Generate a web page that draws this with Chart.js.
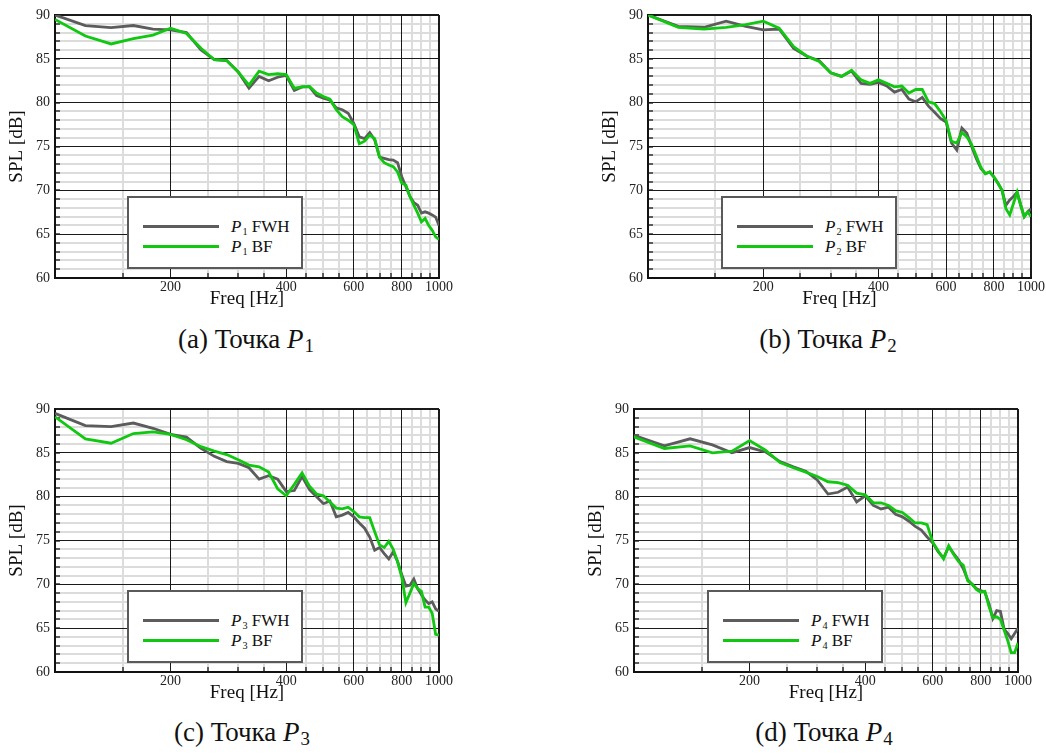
<!DOCTYPE html>
<html lang="ru">
<head>
    <meta charset="UTF-8">
    <title>SPL - Точки P1..P4</title>
    <script src="https://cdn.jsdelivr.net/npm/chart.js"></script>
    <style>
        body {
            margin: 0;
            background: #ffffff;
            font-family: 'Liberation Serif', 'DejaVu Serif', serif;
            color: #111;
        }
        #page {
            position: relative;
            width: 1046px;
            height: 754px;
            overflow: hidden;
        }
        canvas {
            position: absolute;
        }
        .legend {
            position: absolute;
            width: 176px;
            height: 73px;
            background: #fff;
            border: 2px solid #5a5a5a;
            box-sizing: border-box;
        }
        .legend .swatch {
            position: absolute;
            left: 14px;
            width: 76px;
            height: 3px;
        }
        .legend .txt {
            position: absolute;
            left: 102px;
            font-size: 17px;
            line-height: 17px;
            white-space: nowrap;
        }
        .sub {
            font-size: 0.6em;
            position: relative;
            top: 0.3em;
            margin-left: 1px;
        }
        .caption {
            position: absolute;
            font-size: 27px;
            line-height: 27px;
            white-space: nowrap;
            transform: translateX(-50%);
        }
        .caption .sub {
            font-size: 0.7em;
            top: 0.25em;
        }
    </style>
</head>
<body>
<div id="page"></div>

<script>
    // frequencies (Hz), 20 Hz step
    const freqs = [100, 120, 140, 160, 180, 200, 220, 240, 260, 280,
                   300, 320, 340, 360, 380, 400, 420, 440, 460, 480,
                   500, 520, 540, 560, 580, 600, 620, 640, 660, 680,
                   700, 720, 740, 760, 780, 800, 820, 840, 860, 880,
                   900, 920, 940, 960, 980, 1000];

    // SPL [dB]
    const p1Fwh = [90.0, 88.8, 88.55, 88.8, 88.4, 88.3, 88.0, 86.0, 84.9, 84.8,
                   83.5, 81.65, 83.0, 82.5, 82.9, 83.1, 81.4, 81.8, 81.8, 80.8,
                   80.5, 80.3, 79.4, 79.2, 78.8, 77.65, 76.1, 75.9, 76.6, 75.75,
                   73.8, 73.65, 73.5, 73.45, 73.15, 71.55, 70.4, 69.3, 68.6, 68.3,
                   67.4, 67.55, 67.4, 67.2, 66.95, 66.0];
    const p1Bf  = [89.5, 87.6, 86.7, 87.3, 87.7, 88.5, 87.9, 86.2, 84.9, 84.8,
                   83.5, 82.0, 83.6, 83.2, 83.3, 83.2, 81.65, 81.8, 81.85, 81.1,
                   80.7, 80.4, 79.2, 78.4, 78.0, 77.5, 75.3, 75.6, 76.3, 75.9,
                   73.8, 73.15, 72.9, 72.7, 72.1, 70.8, 70.6, 69.3, 68.3, 67.4,
                   66.4, 66.8, 66.0, 65.45, 64.7, 64.4];

    const p2Fwh = [90.0, 88.7, 88.6, 89.3, 88.7, 88.3, 88.4, 86.2, 85.3, 84.8,
                   83.4, 83.0, 83.6, 82.2, 82.1, 82.3, 81.9, 81.2, 81.5, 80.4,
                   80.1, 80.6, 79.6, 78.9, 78.2, 77.8, 75.4, 74.6, 77.1, 76.5,
                   75.0, 73.6, 72.5, 71.9, 72.1, 71.55, 70.8, 70.0, 68.3, 68.9,
                   69.3, 69.8, 68.3, 67.0, 67.55, 67.9];
    const p2Bf  = [90.0, 88.6, 88.4, 88.6, 88.9, 89.3, 88.5, 86.4, 85.3, 84.7,
                   83.4, 83.0, 83.7, 82.6, 82.2, 82.6, 82.2, 81.8, 81.9, 81.1,
                   81.5, 81.5, 80.1, 79.9, 79.0, 78.0, 75.6, 75.4, 76.6, 76.1,
                   75.2, 73.9, 72.6, 71.9, 72.1, 71.5, 70.8, 70.0, 67.9, 67.2,
                   68.5, 69.8, 68.3, 67.0, 67.55, 67.0];

    const p3Fwh = [89.5, 88.1, 88.0, 88.4, 87.8, 87.1, 86.8, 85.5, 84.6, 84.0,
                   83.8, 83.3, 82.0, 82.4, 82.0, 80.6, 80.7, 82.3, 80.8, 80.0,
                   79.2, 79.5, 77.7, 77.9, 78.2, 77.7, 77.0, 76.4, 75.4, 73.9,
                   74.2, 73.5, 72.9, 73.7, 72.6, 71.1, 69.8, 69.9, 70.6, 69.5,
                   68.8, 68.2, 67.8, 68.0, 67.2, 66.9];
    const p3Bf  = [89.1, 86.6, 86.1, 87.2, 87.4, 87.1, 86.5, 85.7, 85.2, 84.8,
                   84.2, 83.6, 83.4, 82.8, 80.9, 80.1, 81.4, 82.7, 81.2, 80.3,
                   80.1, 79.4, 78.7, 78.6, 78.8, 78.3, 77.7, 77.6, 77.6, 76.0,
                   74.5, 74.2, 74.9, 74.0, 72.6, 70.8, 67.9, 69.0, 70.1, 69.5,
                   69.2, 67.4, 67.4, 66.7, 64.3, 64.2];

    const p4Fwh = [87.0, 85.8, 86.6, 85.9, 85.0, 85.6, 85.1, 84.0, 83.4, 82.9,
                   81.9, 80.3, 80.5, 81.1, 79.4, 80.1, 79.0, 78.6, 78.8, 78.0,
                   77.7, 77.2, 76.6, 76.2, 75.4, 74.7, 73.7, 73.0, 74.3, 73.5,
                   72.8, 71.8, 70.5, 70.0, 69.5, 69.3, 69.1, 67.8, 66.1, 67.0,
                   66.9, 64.9, 64.4, 63.8, 64.4, 65.0];
    const p4Bf  = [86.8, 85.5, 85.8, 85.0, 85.2, 86.4, 85.3, 83.9, 83.3, 82.8,
                   82.3, 81.7, 81.6, 81.3, 80.4, 80.2, 79.3, 79.3, 79.0, 78.4,
                   78.2, 77.6, 77.0, 77.0, 76.8, 74.8, 73.8, 72.9, 74.4, 73.4,
                   72.6, 72.2, 70.4, 70.0, 69.4, 69.1, 69.2, 67.5, 66.2, 66.3,
                   66.0, 64.8, 63.6, 62.2, 62.2, 63.3];

    // axis ticks
    const xMajorTicks = [200, 400, 600, 800, 1000];
    const xMinorTicks = [150, 250, 300, 350, 450, 500, 550, 650, 700, 750, 850, 900, 950];
    const yMin = 60, yMax = 90;

    const GRAY = '#5c5c5c';
    const GREEN = '#10c810';
    const SERIF = "'Liberation Serif', 'DejaVu Serif', serif";

    const panels = [
        { tag: 'a', n: 1, fwh: p1Fwh, bf: p1Bf, left: 0,   top: 0,   width: 460, padRight: 21, legend: [127, 196], caption: [246, 339] },
        { tag: 'b', n: 2, fwh: p2Fwh, bf: p2Bf, left: 593, top: 0,   width: 453, padRight: 14, legend: [721, 196], caption: [828, 339] },
        { tag: 'c', n: 3, fwh: p3Fwh, bf: p3Bf, left: 0,   top: 394, width: 460, padRight: 21, legend: [127, 590], caption: [242, 732] },
        { tag: 'd', n: 4, fwh: p4Fwh, bf: p4Bf, left: 579, top: 394, width: 460, padRight: 21, legend: [707, 590], caption: [824, 732] }
    ];

    const page = document.getElementById('page');

    function points(values) {
        return freqs.map((f, i) => ({ x: f, y: values[i] }));
    }

    function makePanel(p) {
        const canvas = document.createElement('canvas');
        canvas.width = p.width;
        canvas.height = 312;
        canvas.style.left = p.left + 'px';
        canvas.style.top = p.top + 'px';
        page.appendChild(canvas);

        new Chart(canvas, {
            type: 'line',
            data: {
                datasets: [
                    { label: 'P' + p.n + ' BF', data: points(p.bf), borderColor: GREEN, borderWidth: 2.8, pointRadius: 0, tension: 0, order: 1 },
                    { label: 'P' + p.n + ' FWH', data: points(p.fwh), borderColor: GRAY, borderWidth: 2.8, pointRadius: 0, tension: 0, order: 2 }
                ]
            },
            options: {
                responsive: false,
                animation: false,
                devicePixelRatio: 1,
                layout: { padding: { top: 15, right: p.padRight, bottom: 0, left: 0 } },
                plugins: { legend: { display: false }, tooltip: { enabled: false } },
                scales: {
                    x: {
                        type: 'logarithmic', position: 'bottom', min: 100, max: 1000, weight: 1,
                        afterBuildTicks: s => { s.ticks = xMajorTicks.map(v => ({ value: v })); },
                        afterFit: s => { s.height = 34; },
                        ticks: { autoSkip: false, maxRotation: 0, padding: 1, color: '#222',
                                 font: { family: SERIF, size: 14 }, callback: v => String(v) },
                        grid: { z: -1, drawTicks: false, color: '#1a1a1a',
                                lineWidth: ctx => (ctx.tick && ctx.tick.value === 1000) ? 2 : 1 },
                        border: { display: true, color: '#111', width: 2 },
                        title: { display: true, text: 'Freq [Hz]', color: '#111',
                                 font: { family: SERIF, size: 19 }, padding: { top: 0, bottom: 2 } }
                    },
                    xMinor: {
                        type: 'logarithmic', position: 'bottom', min: 100, max: 1000, weight: 0,
                        afterBuildTicks: s => { s.ticks = xMinorTicks.map(v => ({ value: v })); },
                        afterFit: s => { s.height = 0; },
                        ticks: { display: false },
                        grid: { z: -2, color: '#dcdcdc', lineWidth: 2, drawTicks: true,
                                tickLength: -5, tickColor: '#333', tickWidth: 1.5 },
                        border: { display: false }
                    },
                    y: {
                        type: 'linear', position: 'left', min: yMin, max: yMax, weight: 1,
                        afterFit: s => { s.width = 55; },
                        ticks: { stepSize: 5, padding: 5, color: '#222', font: { family: SERIF, size: 14 } },
                        grid: { z: -1, drawTicks: false, color: '#1a1a1a',
                                lineWidth: ctx => (ctx.tick && ctx.tick.value === yMax) ? 2 : 1 },
                        border: { display: true, color: '#111', width: 2 },
                        title: { display: true, text: 'SPL [dB]', color: '#111',
                                 font: { family: SERIF, size: 19 }, padding: { top: 6, bottom: 0 } }
                    },
                    yMinor: {
                        type: 'linear', position: 'left', min: yMin, max: yMax, weight: 0,
                        afterFit: s => { s.width = 0; },
                        ticks: { display: false, stepSize: 1 },
                        grid: { z: -2, lineWidth: 2, drawTicks: true, tickLength: -5, tickColor: '#333', tickWidth: 1.5,
                                color: ctx => (ctx.tick && ctx.tick.value % 5 === 0) ? 'rgba(0,0,0,0)' : '#dcdcdc' },
                        border: { display: false }
                    }
                }
            }
        });

        // legend box inside the plot
        const lg = document.createElement('div');
        lg.className = 'legend';
        lg.style.left = p.legend[0] + 'px';
        lg.style.top = p.legend[1] + 'px';
        lg.innerHTML =
            '<div class="swatch" style="top:26.5px;background:' + GRAY + '"></div>' +
            '<div class="txt" style="top:19.5px"><i>P</i><span class="sub">' + p.n + '</span> FWH</div>' +
            '<div class="swatch" style="top:47.2px;background:' + GREEN + '"></div>' +
            '<div class="txt" style="top:40px"><i>P</i><span class="sub">' + p.n + '</span> BF</div>';
        page.appendChild(lg);

        const cap = document.createElement('div');
        cap.className = 'caption';
        cap.style.left = p.caption[0] + 'px';
        cap.style.top = (p.caption[1] - 13.5) + 'px';
        cap.innerHTML = '(' + p.tag + ') Точка <i>P</i><span class="sub">' + p.n + '</span>';
        page.appendChild(cap);
    }

    panels.forEach(makePanel);
</script>
</body>
</html>
